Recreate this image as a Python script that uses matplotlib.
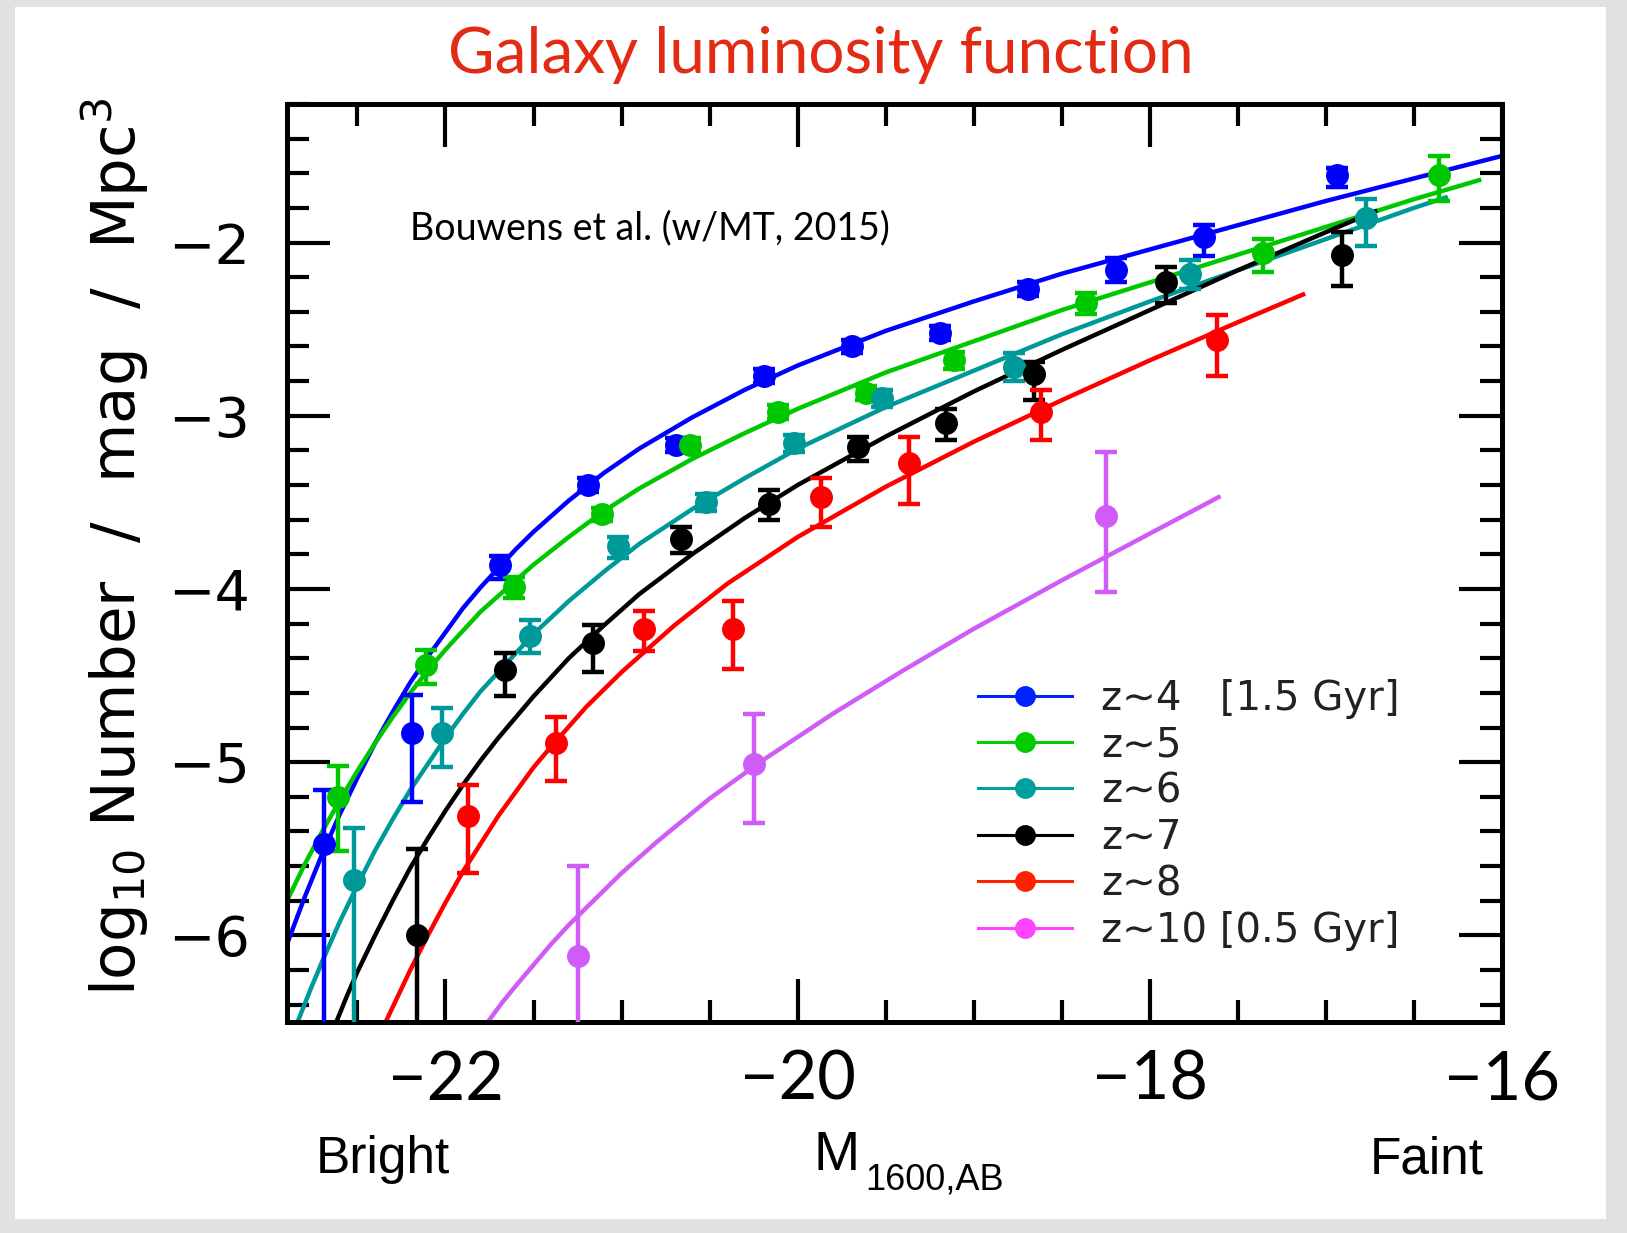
import matplotlib.pyplot as plt
from matplotlib.lines import Line2D
from matplotlib.patches import Rectangle

# Binned UV luminosity function points, log10(phi) with asymmetric errors
z4_M = [-22.69, -22.19, -21.69, -21.19, -20.69, -20.19, -19.69, -19.19, -18.69, -18.19, -17.69, -16.94]
z4_phi = [-5.47, -4.83, -3.86, -3.40, -3.17, -2.77, -2.60, -2.52, -2.27, -2.16, -1.97, -1.61]
z4_up = [0.31, 0.22, 0.05, 0.04, 0.04, 0.04, 0.04, 0.04, 0.04, 0.07, 0.07, 0.04]
z4_lo = [1.50, 0.40, 0.08, 0.04, 0.04, 0.04, 0.04, 0.04, 0.04, 0.07, 0.11, 0.07]

z5_M = [-22.61, -22.11, -21.61, -21.11, -20.61, -20.11, -19.61, -19.11, -18.36, -17.36, -16.36]
z5_phi = [-5.20, -4.44, -3.99, -3.57, -3.17, -2.98, -2.87, -2.68, -2.35, -2.06, -1.61]
z5_up = [0.18, 0.09, 0.06, 0.04, 0.04, 0.04, 0.04, 0.05, 0.06, 0.08, 0.11]
z5_lo = [0.31, 0.11, 0.06, 0.04, 0.04, 0.04, 0.04, 0.05, 0.06, 0.11, 0.15]

z6_M = [-22.52, -22.02, -21.52, -21.02, -20.52, -20.02, -19.52, -18.77, -17.77, -16.77]
z6_phi = [-5.68, -4.83, -4.27, -3.75, -3.50, -3.16, -2.90, -2.72, -2.18, -1.86]
z6_up = [0.30, 0.14, 0.09, 0.05, 0.05, 0.05, 0.05, 0.08, 0.08, 0.11]
z6_lo = [1.50, 0.20, 0.10, 0.07, 0.05, 0.05, 0.05, 0.08, 0.09, 0.16]

z7_M = [-22.16, -21.66, -21.16, -20.66, -20.16, -19.66, -19.16, -18.66, -17.91, -16.91]
z7_phi = [-6.00, -4.47, -4.31, -3.71, -3.51, -3.18, -3.04, -2.76, -2.23, -2.07]
z7_up = [0.50, 0.10, 0.10, 0.07, 0.08, 0.06, 0.08, 0.07, 0.09, 0.13]
z7_lo = [1.50, 0.15, 0.17, 0.08, 0.09, 0.08, 0.10, 0.15, 0.12, 0.18]

z8_M = [-21.87, -21.37, -20.87, -20.37, -19.87, -19.37, -18.62, -17.62]
z8_phi = [-5.31, -4.89, -4.23, -4.23, -3.47, -3.27, -2.98, -2.56]
z8_up = [0.18, 0.15, 0.10, 0.16, 0.11, 0.15, 0.13, 0.14]
z8_lo = [0.33, 0.22, 0.13, 0.23, 0.17, 0.24, 0.16, 0.21]

z10_M = [-21.25, -20.25, -18.25]
z10_phi = [-6.12, -5.01, -3.58]
z10_up = [0.52, 0.29, 0.37]
z10_lo = [1.50, 0.34, 0.44]

# Schechter fit curves traced along the magnitude axis
fit4_M = [-22.9, -22.8, -22.7, -22.6, -22.5, -22.4, -22.3, -22.2, -22.1, -22.0, -21.9, -21.8,
          -21.7, -21.6, -21.5, -21.3, -21.1, -20.9, -20.6, -20.3, -20.0, -19.5, -19.0,
          -18.5, -18.0, -17.5, -17.0, -16.5, -16.0]
fit4_phi = [-6.05, -5.78, -5.53, -5.30, -5.09, -4.89, -4.71, -4.54, -4.39, -4.25, -4.11, -3.99,
            -3.88, -3.77, -3.67, -3.49, -3.33, -3.19, -3.01, -2.85, -2.71, -2.51, -2.34,
            -2.18, -2.04, -1.90, -1.76, -1.63, -1.50]

fit5_M = [-22.9, -22.8, -22.7, -22.6, -22.5, -22.4, -22.3, -22.2, -22.1, -22.0, -21.9, -21.8,
          -21.7, -21.5, -21.3, -21.1, -20.9, -20.6, -20.3, -20.0, -19.5, -19.0, -18.5,
          -18.0, -17.5, -17.0, -16.5, -16.13]
fit5_phi = [-5.80, -5.59, -5.40, -5.22, -5.05, -4.89, -4.74, -4.60, -4.47, -4.35, -4.24, -4.13,
            -4.04, -3.86, -3.70, -3.55, -3.42, -3.25, -3.10, -2.96, -2.75, -2.57, -2.39,
            -2.23, -2.07, -1.91, -1.75, -1.64]

fit6_M = [-22.84, -22.77, -22.7, -22.6, -22.5, -22.4, -22.3, -22.2, -22.1, -22.0, -21.9, -21.8,
          -21.7, -21.6, -21.5, -21.3, -21.1, -20.9, -20.6, -20.3, -20.0, -19.5, -19.0,
          -18.5, -18.0, -17.5, -17.0, -16.5, -16.32]
fit6_phi = [-6.50, -6.32, -6.15, -5.92, -5.71, -5.51, -5.33, -5.16, -5.01, -4.86, -4.72, -4.59,
            -4.48, -4.37, -4.26, -4.07, -3.90, -3.74, -3.54, -3.36, -3.19, -2.95, -2.74,
            -2.53, -2.34, -2.16, -1.98, -1.80, -1.74]

fit7_M = [-22.62, -22.56, -22.5, -22.4, -22.3, -22.2, -22.1, -22.0, -21.9, -21.8, -21.7,
          -21.6, -21.5, -21.3, -21.1, -20.9, -20.6, -20.3, -20.0, -19.5, -19.0, -18.5,
          -18.0, -17.5, -17.0, -16.72]
fit7_phi = [-6.50, -6.35, -6.21, -6.00, -5.80, -5.61, -5.44, -5.28, -5.13, -4.99, -4.86,
            -4.74, -4.62, -4.40, -4.21, -4.03, -3.80, -3.59, -3.40, -3.12, -2.86, -2.62,
            -2.39, -2.16, -1.94, -1.82]

fit8_M = [-22.34, -22.27, -22.2, -22.1, -22.0, -21.9, -21.8, -21.7, -21.6, -21.5, -21.4,
          -21.2, -21.0, -20.7, -20.4, -20.0, -19.5, -19.0, -18.5, -18.0, -17.5, -17.13]
fit8_phi = [-6.50, -6.35, -6.20, -6.00, -5.81, -5.63, -5.47, -5.31, -5.17, -5.03, -4.91,
            -4.68, -4.48, -4.21, -3.97, -3.70, -3.41, -3.15, -2.91, -2.68, -2.46, -2.30]

fit10_M = [-21.76, -21.68, -21.6, -21.5, -21.4, -21.3, -21.2, -21.0, -20.8, -20.5, -20.2,
           -19.8, -19.4, -19.0, -18.5, -18.0, -17.61]
fit10_phi = [-6.50, -6.39, -6.29, -6.17, -6.05, -5.94, -5.84, -5.64, -5.46, -5.21, -4.99,
             -4.72, -4.47, -4.23, -3.95, -3.68, -3.47]

legend_labels = ['z\u223c4   [1.5 Gyr]', 'z\u223c5', 'z\u223c6', 'z\u223c7', 'z\u223c8',
                 'z\u223c10 [0.5 Gyr]']

x_ticks = [-22, -20, -18, -16]
y_ticks = [-6, -5, -4, -3, -2]

colors = ['#0000ff', '#00c800', '#009999', '#000000', '#ff0000', '#cf5cf7']
legend_colors = ['#0022ff', '#00cc00', '#00a0a0', '#000000', '#ff2200', '#ff44ff']

series = [
    (z4_M, z4_phi, z4_lo, z4_up, fit4_M, fit4_phi),
    (z5_M, z5_phi, z5_lo, z5_up, fit5_M, fit5_phi),
    (z6_M, z6_phi, z6_lo, z6_up, fit6_M, fit6_phi),
    (z7_M, z7_phi, z7_lo, z7_up, fit7_M, fit7_phi),
    (z8_M, z8_phi, z8_lo, z8_up, fit8_M, fit8_phi),
    (z10_M, z10_phi, z10_lo, z10_up, fit10_M, fit10_phi),
]

fig = plt.figure(figsize=(16.27, 12.33), dpi=100)
fig.patch.set_facecolor('#e1e1e4')
fig.add_artist(Rectangle((15 / 1627, 1 - 1219 / 1233), 1591 / 1627, 1212 / 1233,
                         transform=fig.transFigure, facecolor='white', edgecolor='none', zorder=0))

ax = fig.add_axes([0.1764, 0.1711, 0.7468, 0.7446])
ax.set_xlim(-22.9, -16.0)
ax.set_ylim(-6.5, -1.2)

for (M, phi, lo, up, fM, fphi), c in zip(series, colors):
    ax.plot(fM, fphi, color=c, lw=3.2, zorder=2)
    ax.errorbar(M, phi, yerr=[lo, up], fmt='o', color=c, ms=15.5, elinewidth=3.2,
                capsize=8, capthick=3.2, zorder=3)

# axis styling: thick frame, inward ticks on all sides
for sp in ax.spines.values():
    sp.set_linewidth(3.6)
ax.set_xticks(x_ticks, labels=['\u2212%d' % abs(v) for v in x_ticks],
              fontsize=48, fontfamily='Lato')
ax.set_yticks(y_ticks, labels=['\u2212%d' % abs(v) for v in y_ticks],
              fontsize=40, fontfamily='DejaVu Sans')
ax.set_xticks([v / 2 for v in range(-45, -31)], minor=True)
ax.set_yticks([v / 5 for v in range(-32, -5)], minor=True)
ax.tick_params(which='both', direction='in', top=True, right=True, width=3)
ax.tick_params(which='major', length=31)
ax.tick_params(which='minor', length=15.5)
ax.tick_params(axis='x', which='major', pad=20)
ax.tick_params(axis='y', which='major', pad=27)

handles = [Line2D([], [], color=c, lw=2.2, marker='o', ms=14) for c in legend_colors]
leg = ax.legend(handles, legend_labels, loc='upper left', bbox_to_anchor=(0.5687, 0.374),
                frameon=False, fontsize=29, handlelength=2.33, handletextpad=0.72,
                labelspacing=0.16, borderpad=0, borderaxespad=0)
for t in leg.get_texts():
    t.set_color('#222222')

fig.text(410 / 1627, 1 - 239 / 1233, 'Bouwens et al. (w/MT, 2015)',
         fontsize=27, family='Lato', va='baseline', ha='left')

fig.text(0.5046, 0.9408, 'Galaxy luminosity function', color='#e32b14', fontsize=46,
         family='Lato', ha='center', va='baseline')

fig.text(0.0707, 0.5564, r'$\mathregular{log_{10}}$ Number  /  mag  /  Mpc$\mathregular{^3}$',
         rotation=90, ha='center', va='center', fontsize=44, family='DejaVu Sans')

fig.text(316 / 1627, 1 - 1173 / 1233, 'Bright', fontsize=37, family='Liberation Sans',
         ha='left', va='baseline')
fig.text(1370 / 1627, 1 - 1173 / 1233, 'Faint', fontsize=37, family='Liberation Sans',
         ha='left', va='baseline')
fig.text(814 / 1627, 1 - 1170 / 1233, 'M', fontsize=40, family='Liberation Sans',
         ha='left', va='baseline')
fig.text(865 / 1627, 1 - 1190 / 1233, '1600,AB', fontsize=26, family='Liberation Sans',
         ha='left', va='baseline')

fig.savefig('out.png', dpi=100)
